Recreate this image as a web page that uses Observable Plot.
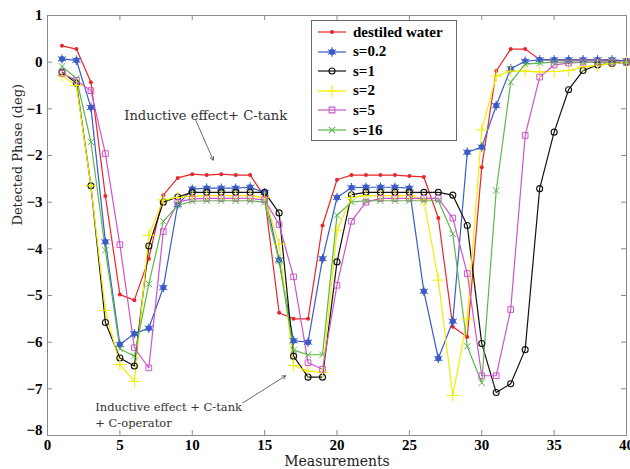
<!DOCTYPE html>
<html><head><meta charset="utf-8">
<script src="https://cdn.jsdelivr.net/npm/d3@7"></script>
<script src="https://cdn.jsdelivr.net/npm/@observablehq/plot@0.6"></script>
<style>
body{margin:0;background:#fff;}
#wrap{position:relative;width:630px;height:469px;overflow:hidden;background:#fff;}
#legend{position:absolute;left:311px;top:20px;width:146px;height:121px;border:1px solid #6a6a6a;background:#fff;box-sizing:border-box;font:bold 15px "Liberation Serif",serif;color:#000;}
.row{position:absolute;left:0;height:20px;display:flex;align-items:center;white-space:nowrap;}
.row svg{display:block;margin-left:5px;margin-right:6px;}
</style></head><body><div id="wrap"><div id="legend"></div></div>
<script>
// ---- data ----
const measurements = d3.range(1, 41);
const seriesNames = ["destiled water", "s=0.2", "s=1", "s=2", "s=5", "s=16"];
const seriesColors = ["#e8262b", "#3a5cc8", "#111111", "#f2ee00", "#cc55cc", "#5cb84a"];
const destiledWater = [0.35,0.28,-0.43,-2.87,-4.98,-5.10,-4.21,-2.85,-2.48,-2.40,-2.42,-2.40,-2.42,-2.42,-2.88,-5.37,-5.50,-5.50,-3.50,-2.52,-2.42,-2.42,-2.42,-2.42,-2.44,-2.46,-3.34,-5.67,-5.89,-2.25,-0.19,0.28,0.28,0.06,0.05,0.05,0.05,0.05,0.04,0.02];
const s02 = [0.07,0.04,-0.97,-3.85,-6.05,-5.82,-5.70,-4.83,-3.05,-2.72,-2.70,-2.70,-2.70,-2.68,-2.80,-4.24,-5.97,-6.00,-4.21,-2.90,-2.69,-2.68,-2.68,-2.68,-2.70,-4.91,-6.35,-5.55,-1.93,-1.82,-0.93,-0.14,0.02,0.05,0.05,0.05,0.05,0.05,0.05,0.03];
const s1 = [-0.21,-0.45,-2.65,-5.58,-6.34,-6.51,-3.94,-3.00,-2.89,-2.79,-2.79,-2.79,-2.79,-2.79,-2.79,-3.23,-6.30,-6.75,-6.75,-4.28,-2.84,-2.79,-2.79,-2.79,-2.79,-2.79,-2.79,-2.85,-3.50,-6.03,-7.08,-6.89,-6.16,-2.71,-1.50,-0.59,-0.18,-0.06,-0.03,0.00];
const s2 = [-0.29,-0.50,-2.65,-5.32,-6.48,-6.84,-3.71,-2.95,-2.90,-2.87,-2.86,-2.86,-2.86,-2.86,-2.90,-3.90,-6.50,-6.62,-6.65,-3.60,-2.90,-2.86,-2.86,-2.86,-2.86,-2.95,-4.67,-7.14,-5.50,-1.45,-0.30,-0.19,-0.19,-0.21,-0.20,-0.18,-0.10,-0.07,-0.03,0.00];
const s5 = [-0.24,-0.39,-0.61,-1.96,-3.91,-6.12,-6.55,-3.63,-3.00,-2.93,-2.92,-2.92,-2.92,-2.92,-2.95,-3.48,-4.60,-6.44,-6.58,-4.78,-3.41,-3.00,-2.92,-2.92,-2.92,-2.92,-2.92,-3.34,-4.53,-6.72,-6.72,-5.30,-1.57,-0.32,-0.06,-0.02,0.00,0.00,0.00,0.00];
const s16 = [-0.09,-0.35,-1.71,-4.03,-6.14,-6.30,-4.75,-3.41,-3.07,-2.98,-2.97,-2.97,-2.97,-2.97,-3.00,-4.26,-6.17,-6.27,-6.27,-3.28,-3.00,-2.97,-2.97,-2.97,-2.97,-2.97,-2.97,-3.68,-6.09,-6.87,-2.75,-0.43,-0.04,-0.02,0.00,0.00,0.00,0.00,0.00,0.00];
const xTicks = [0,5,10,15,20,25,30,35,40];
const yTicks = [1,0,-1,-2,-3,-4,-5,-6,-7,-8];
const annotationTexts = ["Inductive effect+ C-tank", "Inductive effect + C-tank", "+ C-operator"];
const annotationX = [5.3, 3.3, 3.3];
const annotationY = [-1.14, -7.40, -7.73];
const arrowX1 = [10.25, 13.5], arrowY1 = [-1.25, -7.3];
const arrowX2 = [11.45, 16.45], arrowY2 = [-2.1, -6.72];

// ---- table ----
const seriesValues = [destiledWater, s02, s1, s2, s5, s16];
const rows = seriesNames.flatMap((name, i) => measurements.map((m, j) => ({series: name, x: m, y: seriesValues[i][j]})));
const annotations = annotationTexts.map((t, i) => ({text: t, x: annotationX[i], y: annotationY[i]}));
const arrows = arrowX1.map((v, i) => ({x1: v, y1: arrowY1[i], x2: arrowX2[i], y2: arrowY2[i]}));

const W = 630, H = 469, mL = 47, mR = 4, mT = 15, mB = 34;
const innerW = W - mL - mR, innerH = H - mT - mB;
const frameColor = "#8a8a8a";
const fmt = d => d < 0 ? "\u2212" + (-d) : String(d);
const bySeries = name => rows.filter(r => r.series === name);
const col = i => seriesColors[i];

const markerMarks = [
  Plot.dot(bySeries(seriesNames[0]), {x: "x", y: "y", r: 2, fill: col(0), stroke: "none"}),
  Plot.dot(bySeries(seriesNames[1]), {x: "x", y: "y", r: 3, fill: col(1), stroke: "none"}),
  Plot.dot(bySeries(seriesNames[1]), {x: "x", y: "y", r: 4.5, symbol: "asterisk", stroke: col(1), strokeWidth: 1}),
  Plot.dot(bySeries(seriesNames[2]), {x: "x", y: "y", r: 3, fill: "none", stroke: col(2), strokeWidth: 1.1}),
  Plot.dot(bySeries(seriesNames[3]), {x: "x", y: "y", r: 4, symbol: "plus", stroke: col(3), strokeWidth: 1}),
  Plot.dot(bySeries(seriesNames[4]), {x: "x", y: "y", r: 3.2, symbol: "square", fill: "none", stroke: col(4), strokeWidth: 1}),
  Plot.dot(bySeries(seriesNames[5]), {x: "x", y: "y", r: 3, symbol: "times", stroke: col(5), strokeWidth: 1})
];

const chart = Plot.plot({
  width: W, height: H,
  marginLeft: mL, marginRight: mR, marginTop: mT, marginBottom: mB,
  style: {fontFamily: "'Liberation Serif', serif", background: "white", color: "#000"},
  x: {domain: [0, 40]},
  y: {domain: [-8, 1]},
  marks: [
    Plot.tickX(xTicks, {x: d => d, stroke: frameColor, insetTop: innerH - 5}),
    Plot.tickX(xTicks, {x: d => d, stroke: frameColor, insetBottom: innerH - 5}),
    Plot.tickY(yTicks, {y: d => d, stroke: frameColor, insetRight: innerW - 5}),
    Plot.tickY(yTicks, {y: d => d, stroke: frameColor, insetLeft: innerW - 5}),
    Plot.frame({stroke: frameColor}),
    Plot.axisX(xTicks, {tickSize: 0, tickPadding: 4, fontSize: 15, fontWeight: "bold", label: null, tickFormat: fmt}),
    Plot.axisY(yTicks.filter(t => t !== -8), {tickSize: 0, tickPadding: 5, fontSize: 15, fontWeight: "bold", label: null, tickFormat: fmt}),
    Plot.axisY([-8], {tickSize: 0, tickPadding: 5, fontSize: 15, fontWeight: "bold", label: null, tickFormat: fmt, dy: -5}),
    Plot.text(["Measurements"], {frameAnchor: "bottom", dy: 30, fontSize: 14, fontFamily: "'DejaVu Serif', serif", fill: "#222"}),
    Plot.text(["Detected Phase (deg)"], {frameAnchor: "left", rotate: -90, dx: -30, fontSize: 13, fontFamily: "'DejaVu Serif', serif", fill: "#222"}),
    ...seriesNames.map((name, i) => Plot.line(bySeries(name), {x: "x", y: "y", stroke: col(i), strokeWidth: 1.2})),
    ...markerMarks,
    Plot.text(annotations.slice(0, 1), {x: "x", y: "y", text: "text", textAnchor: "start", fontSize: 13.1, fontFamily: "'DejaVu Serif', serif", fill: "#333"}),
    Plot.text(annotations.slice(1), {x: "x", y: "y", text: "text", textAnchor: "start", fontSize: 11.5, fontFamily: "'DejaVu Serif', serif", fill: "#333"}),
    Plot.arrow(arrows, {x1: "x1", y1: "y1", x2: "x2", y2: "y2", stroke: "#444", strokeWidth: 0.8, headLength: 7})
  ]
});
document.getElementById("wrap").prepend(chart);

// ---- legend ----
const legend = document.getElementById("legend");
const ns = "http://www.w3.org/2000/svg";
const symbolFor = [
  [{type: d3.symbolCircle, r: 2, fill: true}],
  [{type: d3.symbolCircle, r: 3, fill: true}, {type: d3.symbolAsterisk, r: 4.5, fill: false}],
  [{type: d3.symbolCircle, r: 3, fill: false}],
  [{type: d3.symbolPlus, r: 4, fill: false}],
  [{type: d3.symbolSquare, r: 3.2, fill: false}],
  [{type: d3.symbolTimes, r: 3, fill: false}]
];
seriesNames.forEach((name, i) => {
  const row = document.createElement("div");
  row.className = "row";
  row.style.top = (1 + i * 19.6) + "px";
  const svg = document.createElementNS(ns, "svg");
  svg.setAttribute("width", 30); svg.setAttribute("height", 14);
  const line = document.createElementNS(ns, "line");
  line.setAttribute("x1", 1); line.setAttribute("x2", 29); line.setAttribute("y1", 7); line.setAttribute("y2", 7);
  line.setAttribute("stroke", col(i)); line.setAttribute("stroke-width", 1.2);
  svg.appendChild(line);
  symbolFor[i].forEach(s => {
    const p = document.createElementNS(ns, "path");
    p.setAttribute("d", d3.symbol(s.type, Math.PI * s.r * s.r)());
    p.setAttribute("transform", "translate(15,7)");
    p.setAttribute("fill", s.fill ? col(i) : "none");
    p.setAttribute("stroke", s.fill ? "none" : col(i));
    p.setAttribute("stroke-width", 1.1);
    svg.appendChild(p);
  });
  row.appendChild(svg);
  const span = document.createElement("span");
  span.textContent = name;
  row.appendChild(span);
  legend.appendChild(row);
});
</script></body></html>
